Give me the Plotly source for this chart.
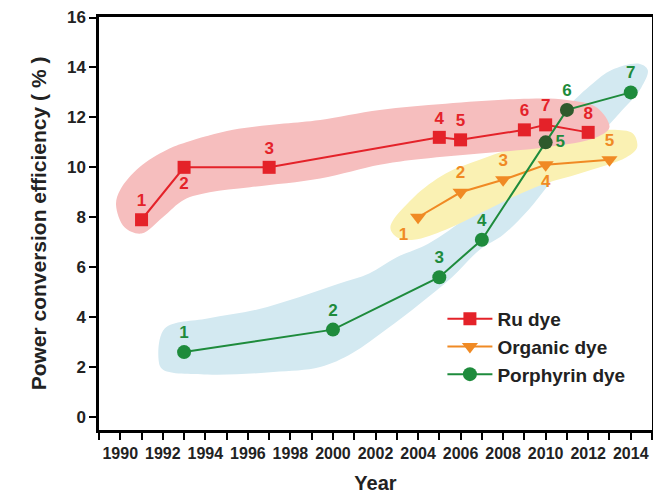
import plotly.graph_objects as go

# ---------------- data ----------------
years_ru = [1991, 1993, 1997, 2005, 2006, 2009, 2010, 2012]
pce_ru = [7.9, 10.0, 10.0, 11.2, 11.1, 11.5, 11.7, 11.4]
labels_ru = ["1", "2", "3", "4", "5", "6", "7", "8"]

years_org = [2004, 2006, 2008, 2010, 2013]
pce_org = [8.0, 9.0, 9.5, 10.1, 10.3]
labels_org = ["1", "2", "3", "4", "5"]

years_por = [1993, 2000, 2005, 2007, 2010, 2011, 2014]
pce_por = [2.6, 3.5, 5.6, 7.1, 11.0, 12.3, 13.0]
labels_por = ["1", "2", "3", "4", "5", "6", "7"]

x_ticks = list(range(1990, 2015, 2))
y_ticks = list(range(0, 17, 2))

# highlight band outlines (year, efficiency)
band_ru_x = [1989.8, 1990.0, 1990.9, 1992.2, 1993.1, 1995.3, 1997.7, 1999.4, 2002.2, 2005.3,
             2009.2, 2011.0, 2012.4, 2013.0, 2012.4, 2010.0, 2006.9, 2003.8, 2002.2, 1999.4,
             1996.1, 1994.2, 1993.0, 1992.0, 1991.0, 1990.2, 1989.8]
band_ru_y = [8.5, 9.1, 10.0, 10.7, 11.0, 11.5, 11.75, 11.9, 12.3, 12.55,
             12.75, 12.7, 12.4, 11.6, 11.2, 10.8, 10.55, 10.3, 10.1, 9.55,
             9.2, 9.0, 8.7, 8.0, 7.35, 7.6, 8.5]

band_org_x = [2002.7, 2003.8, 2005.3, 2006.9, 2008.4, 2010.6, 2013.1, 2014.1, 2014.3, 2013.8,
              2011.6, 2010.0, 2008.45, 2006.9, 2005.3, 2003.8, 2003.0, 2002.7]
band_org_y = [7.6, 8.8, 9.75, 10.3, 10.75, 11.3, 11.5, 11.35, 10.8, 10.4,
              9.75, 9.35, 8.8, 8.15, 7.5, 7.1, 7.2, 7.6]

band_por_x = [1992.1, 1994.1, 1996.4, 1998.4, 2000.3, 2001.7, 2003.0, 2004.5, 2006.4, 2008.8,
              2011.0, 2012.2, 2013.1, 2014.4, 2014.8, 2014.5, 2013.45, 2012.5, 2011.1, 2009.2,
              2008.0, 2006.9, 2005.6, 2004.1, 2002.5, 2000.9, 1999.4, 1997.2, 1994.1, 1992.0,
              1991.8, 1992.1]
band_por_y = [3.55, 3.95, 4.3, 4.8, 5.35, 5.75, 6.4, 6.95, 8.1, 10.3,
              12.4, 13.35, 13.9, 14.15, 13.9, 13.2, 12.15, 11.3, 10.3, 8.3,
              7.3, 6.7, 5.6, 4.55, 3.5, 2.55, 2.0, 1.8, 1.7, 1.9,
              2.3, 3.55]

# ---------------- styles ----------------
RED = "#E42229"
ORANGE = "#F08A24"
GREEN = "#1E8B3C"
DARK_GREEN = "#2E5A2C"
FONT = "Liberation Sans, Arial, sans-serif"
TXT = "#222222"

pos_ru = ["top center", "bottom center", "top center", "top center", "top center",
          "top center", "top center", "top center"]
pos_org = ["bottom left", "top center", "top center", "bottom center", "top center"]
pos_por = ["top center", "top center", "top center", "top center", "middle right",
           "top center", "top center"]
por_marker_colors = [GREEN, GREEN, GREEN, GREEN, DARK_GREEN, DARK_GREEN, GREEN]

fig = go.Figure()

for bx, by, col in [(band_por_x, band_por_y, "#D3E9F1"),
                    (band_org_x, band_org_y, "#FAF1B3"),
                    (band_ru_x, band_ru_y, "#F6BEBE")]:
    fig.add_trace(go.Scatter(x=bx, y=by, mode="lines", fill="toself", fillcolor=col,
                             line=dict(width=0, shape="spline", smoothing=1.0, color=col),
                             hoverinfo="skip", showlegend=False))

fig.add_trace(go.Scatter(
    x=years_ru, y=pce_ru, name="Ru dye", mode="lines+markers+text",
    text=labels_ru, textposition=pos_ru,
    textfont=dict(family=FONT, size=17, color=RED, weight="bold"),
    line=dict(color=RED, width=2),
    marker=dict(symbol="square", size=13, color=RED)))

fig.add_trace(go.Scatter(
    x=years_org, y=pce_org, name="Organic dye", mode="lines+markers+text",
    text=labels_org, textposition=pos_org,
    textfont=dict(family=FONT, size=17, color=ORANGE, weight="bold"),
    line=dict(color=ORANGE, width=2),
    marker=dict(symbol="triangle-down", size=14, color=ORANGE)))

fig.add_trace(go.Scatter(
    x=years_por, y=pce_por, name="Porphyrin dye", mode="lines+markers+text",
    text=labels_por, textposition=pos_por,
    textfont=dict(family=FONT, size=17, color=GREEN, weight="bold"),
    line=dict(color=GREEN, width=2),
    marker=dict(symbol="circle", size=14, color=por_marker_colors)))

fig.update_layout(
    width=653, height=494,
    margin=dict(l=99, r=1, t=17, b=64, autoexpand=False),
    plot_bgcolor="white", paper_bgcolor="white",
    font=dict(family=FONT, color=TXT, weight="bold"),
    legend=dict(x=0.621, y=0.315, xanchor="left", yanchor="top",
                bgcolor="rgba(0,0,0,0)", font=dict(family=FONT, size=19, color=TXT, weight="bold"),
                itemwidth=45, tracegroupgap=0),
    xaxis=dict(range=[1989, 2015], tickmode="array", tickvals=x_ticks, automargin=False,
               ticks="outside", ticklen=7, tickwidth=2, tickcolor="black",
               minor=dict(dtick=1, tick0=1989, ticks="outside", ticklen=7, tickwidth=2, tickcolor="black"),
               showline=True, linewidth=2.5, linecolor="black", mirror=True,
               showgrid=False, zeroline=False,
               tickfont=dict(family=FONT, size=16, color=TXT, weight="bold"),
               title=dict(text="Year", standoff=16,
                          font=dict(family=FONT, size=20, color=TXT, weight="bold"))),
    yaxis=dict(range=[-0.52, 16.02], tickmode="array", tickvals=y_ticks, automargin=False,
               ticks="outside", ticklen=7, tickwidth=2, tickcolor="black",
               showline=True, linewidth=2.5, linecolor="black", mirror=True,
               showgrid=False, zeroline=False,
               tickfont=dict(family=FONT, size=17, color=TXT, weight="bold"),
               title=dict(text="Power conversion efficiency ( % )", standoff=15,
                          font=dict(family=FONT, size=21, color=TXT, weight="bold"))),
)

# remove the default 8px page margin so the figure sits at the window's corner
fig.write_html("out.html", config={"displayModeBar": False},
               post_script="document.body.style.margin='0';document.body.style.overflow='hidden';")
